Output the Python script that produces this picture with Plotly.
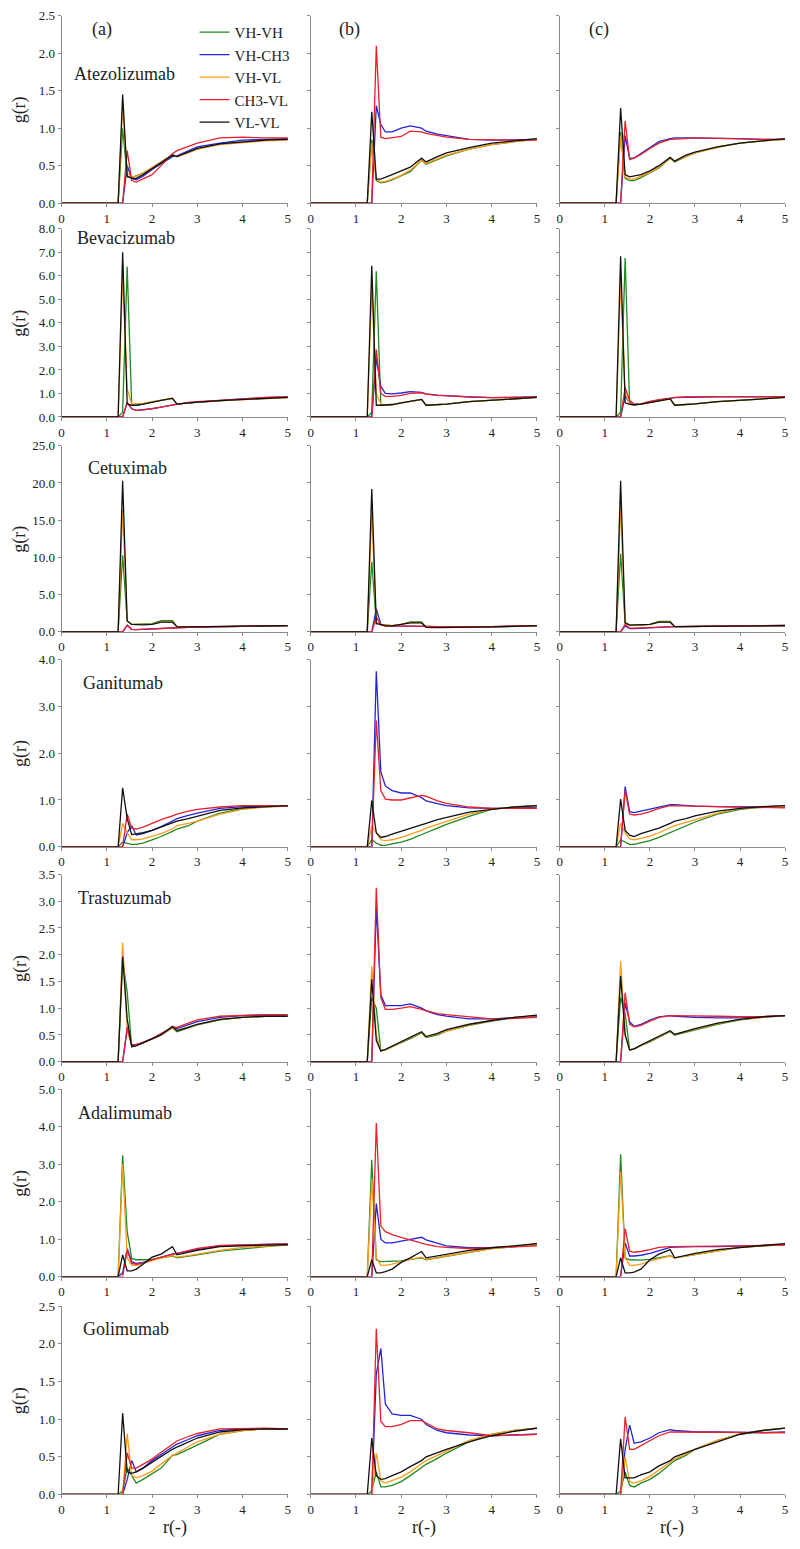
import plotly.graph_objects as go

# ---------------- data ----------------
R = [0, 1.25, 1.35, 1.45, 1.55, 1.65, 1.8, 2.0, 2.2, 2.45, 2.55, 2.8, 3.0, 3.5, 4.0, 4.5, 5.0]
SERIES = ["VH-VH", "VH-CH3", "VH-VL", "CH3-VL", "VL-VL"]
ANTIBODIES = ["Atezolizumab", "Bevacizumab", "Cetuximab", "Ganitumab",
              "Trastuzumab", "Adalimumab", "Golimumab"]
COLUMN_LABELS = ["(a)", "(b)", "(c)"]
Y_MAX = [2.5, 8.0, 25.0, 4.0, 3.5, 5.0, 2.5]
Y_DTICK = [0.5, 1.0, 5.0, 1.0, 0.5, 1.0, 0.5]
X_TICKS = [0, 1, 2, 3, 4, 5]

atezolizumab_a = {
    "VH-VH":  [0, 0, 1.0, 0.35, 0.34, 0.36, 0.4, 0.47, 0.55, 0.65, 0.62, 0.68, 0.72, 0.79, 0.82, 0.84, 0.85],
    "VH-CH3": [0, 0, 0, 0.5, 0.33, 0.31, 0.36, 0.45, 0.53, 0.62, 0.63, 0.7, 0.75, 0.8, 0.84, 0.85, 0.86],
    "VH-VL":  [0, 0, 1.3, 0.4, 0.35, 0.36, 0.4, 0.47, 0.55, 0.64, 0.62, 0.67, 0.72, 0.78, 0.81, 0.83, 0.84],
    "CH3-VL": [0, 0, 0, 0.7, 0.3, 0.28, 0.32, 0.38, 0.5, 0.66, 0.7, 0.76, 0.8, 0.87, 0.88, 0.87, 0.87],
    "VL-VL":  [0, 0, 1.45, 0.36, 0.33, 0.33, 0.38, 0.46, 0.55, 0.64, 0.62, 0.68, 0.73, 0.79, 0.82, 0.84, 0.85],
}
atezolizumab_b = {
    "VH-VH":  [0, 0, 0.85, 0.3, 0.27, 0.28, 0.31, 0.36, 0.42, 0.57, 0.52, 0.58, 0.63, 0.72, 0.78, 0.82, 0.85],
    "VH-CH3": [0, 0, 0, 1.3, 1.05, 0.95, 0.95, 1.0, 1.03, 1.0, 0.96, 0.92, 0.9, 0.85, 0.84, 0.84, 0.85],
    "VH-VL":  [0, 0, 0.8, 0.32, 0.28, 0.29, 0.32, 0.37, 0.44, 0.57, 0.53, 0.59, 0.64, 0.72, 0.78, 0.82, 0.85],
    "CH3-VL": [0, 0, 0, 2.1, 0.88, 0.86, 0.87, 0.89, 0.96, 0.95, 0.93, 0.9, 0.88, 0.85, 0.84, 0.84, 0.84],
    "VL-VL":  [0, 0, 1.22, 0.32, 0.32, 0.34, 0.38, 0.43, 0.48, 0.6, 0.55, 0.62, 0.67, 0.74, 0.8, 0.83, 0.86],
}
atezolizumab_c = {
    "VH-VH":  [0, 0, 0.95, 0.33, 0.3, 0.3, 0.34, 0.4, 0.47, 0.6, 0.55, 0.62, 0.67, 0.75, 0.8, 0.83, 0.85],
    "VH-CH3": [0, 0, 0, 0.9, 0.6, 0.6, 0.66, 0.74, 0.82, 0.86, 0.87, 0.87, 0.87, 0.86, 0.86, 0.85, 0.85],
    "VH-VL":  [0, 0, 0.9, 0.35, 0.32, 0.32, 0.36, 0.41, 0.48, 0.6, 0.56, 0.62, 0.67, 0.74, 0.8, 0.83, 0.85],
    "CH3-VL": [0, 0, 0, 1.1, 0.58, 0.6, 0.65, 0.73, 0.8, 0.85, 0.85, 0.86, 0.87, 0.86, 0.86, 0.85, 0.85],
    "VL-VL":  [0, 0, 1.27, 0.38, 0.35, 0.36, 0.38, 0.43, 0.5, 0.61, 0.56, 0.64, 0.68, 0.75, 0.8, 0.83, 0.86],
}

bevacizumab_a = {
    "VH-VH":  [0, 0, 0.2, 6.4, 0.5, 0.5, 0.55, 0.65, 0.72, 0.78, 0.55, 0.6, 0.63, 0.7, 0.75, 0.8, 0.82],
    "VH-CH3": [0, 0, 0, 0.6, 0.35, 0.28, 0.3, 0.35, 0.42, 0.52, 0.55, 0.6, 0.63, 0.7, 0.77, 0.82, 0.85],
    "VH-VL":  [0, 0, 6.0, 1.2, 0.55, 0.55, 0.58, 0.65, 0.72, 0.78, 0.55, 0.6, 0.63, 0.7, 0.75, 0.8, 0.82],
    "CH3-VL": [0, 0, 0, 0.62, 0.35, 0.28, 0.3, 0.36, 0.43, 0.53, 0.56, 0.62, 0.65, 0.72, 0.78, 0.83, 0.86],
    "VL-VL":  [0, 0, 7.0, 0.55, 0.5, 0.5, 0.55, 0.62, 0.72, 0.8, 0.55, 0.6, 0.63, 0.7, 0.75, 0.8, 0.83],
}
bevacizumab_b = {
    "VH-VH":  [0, 0, 0.2, 6.2, 0.5, 0.5, 0.52, 0.6, 0.68, 0.75, 0.5, 0.52, 0.55, 0.65, 0.72, 0.78, 0.83],
    "VH-CH3": [0, 0, 0, 2.5, 1.3, 1.0, 0.98, 1.02, 1.08, 1.05, 0.98, 0.93, 0.9, 0.85, 0.82, 0.83, 0.85],
    "VH-VL":  [0, 0, 5.5, 1.0, 0.55, 0.5, 0.52, 0.6, 0.68, 0.75, 0.5, 0.52, 0.55, 0.65, 0.72, 0.78, 0.83],
    "CH3-VL": [0, 0, 0, 2.87, 1.0, 0.88, 0.88, 0.92, 1.0, 1.03, 0.97, 0.92, 0.9, 0.85, 0.82, 0.83, 0.85],
    "VL-VL":  [0, 0, 6.43, 0.5, 0.5, 0.5, 0.53, 0.6, 0.68, 0.75, 0.5, 0.52, 0.55, 0.65, 0.72, 0.78, 0.83],
}
bevacizumab_c = {
    "VH-VH":  [0, 0, 0.2, 6.76, 0.55, 0.52, 0.55, 0.62, 0.7, 0.77, 0.5, 0.53, 0.56, 0.65, 0.72, 0.78, 0.83],
    "VH-CH3": [0, 0, 0, 0.9, 0.6, 0.52, 0.55, 0.65, 0.72, 0.8, 0.82, 0.84, 0.85, 0.86, 0.86, 0.86, 0.86],
    "VH-VL":  [0, 0, 5.8, 1.0, 0.55, 0.52, 0.55, 0.62, 0.7, 0.77, 0.5, 0.53, 0.56, 0.65, 0.72, 0.78, 0.83],
    "CH3-VL": [0, 0, 0, 1.24, 0.7, 0.55, 0.56, 0.66, 0.74, 0.8, 0.83, 0.85, 0.86, 0.87, 0.87, 0.87, 0.87],
    "VL-VL":  [0, 0, 6.83, 0.6, 0.54, 0.52, 0.55, 0.62, 0.7, 0.77, 0.5, 0.53, 0.56, 0.65, 0.72, 0.78, 0.83],
}

cetuximab_a = {
    "VH-VH":  [0, 0, 10.3, 1.5, 1.0, 1.0, 1.0, 1.1, 1.5, 1.5, 0.7, 0.68, 0.7, 0.72, 0.76, 0.8, 0.85],
    "VH-CH3": [0, 0, 0, 0.9, 0.35, 0.3, 0.35, 0.4, 0.45, 0.55, 0.58, 0.62, 0.65, 0.72, 0.78, 0.82, 0.85],
    "VH-VL":  [0, 0, 16.5, 1.5, 1.0, 1.0, 1.0, 1.05, 1.35, 1.35, 0.7, 0.68, 0.7, 0.72, 0.76, 0.8, 0.85],
    "CH3-VL": [0, 0, 0, 0.9, 0.35, 0.3, 0.35, 0.4, 0.45, 0.55, 0.58, 0.62, 0.65, 0.72, 0.78, 0.82, 0.85],
    "VL-VL":  [0, 0, 20.3, 1.46, 1.0, 0.95, 0.95, 1.0, 1.3, 1.3, 0.7, 0.68, 0.7, 0.72, 0.76, 0.8, 0.85],
}
cetuximab_b = {
    "VH-VH":  [0, 0, 9.4, 1.2, 1.0, 0.9, 0.85, 1.0, 1.35, 1.35, 0.65, 0.6, 0.6, 0.62, 0.68, 0.75, 0.85],
    "VH-CH3": [0, 0, 0, 3.1, 1.0, 0.8, 0.8, 0.82, 0.85, 0.8, 0.75, 0.72, 0.7, 0.7, 0.72, 0.78, 0.85],
    "VH-VL":  [0, 0, 16.0, 1.2, 1.0, 0.9, 0.85, 1.0, 1.25, 1.25, 0.65, 0.6, 0.6, 0.62, 0.68, 0.75, 0.85],
    "CH3-VL": [0, 0, 0, 2.0, 0.9, 0.8, 0.8, 0.82, 0.85, 0.8, 0.75, 0.72, 0.7, 0.7, 0.72, 0.78, 0.85],
    "VL-VL":  [0, 0, 19.2, 1.1, 1.0, 0.85, 0.8, 0.95, 1.2, 1.2, 0.6, 0.58, 0.58, 0.6, 0.66, 0.74, 0.85],
}
cetuximab_c = {
    "VH-VH":  [0, 0, 10.5, 1.2, 0.95, 0.9, 0.9, 1.0, 1.4, 1.4, 0.7, 0.7, 0.72, 0.74, 0.78, 0.8, 0.85],
    "VH-CH3": [0, 0, 0, 0.8, 0.45, 0.45, 0.5, 0.55, 0.6, 0.65, 0.7, 0.72, 0.75, 0.78, 0.8, 0.83, 0.86],
    "VH-VL":  [0, 0, 17.0, 1.2, 0.95, 0.9, 0.9, 1.0, 1.3, 1.3, 0.7, 0.7, 0.72, 0.74, 0.78, 0.8, 0.85],
    "CH3-VL": [0, 0, 0, 1.0, 0.5, 0.5, 0.55, 0.6, 0.65, 0.7, 0.72, 0.74, 0.76, 0.78, 0.8, 0.83, 0.86],
    "VL-VL":  [0, 0, 20.3, 1.2, 0.9, 0.9, 0.9, 1.0, 1.3, 1.3, 0.7, 0.7, 0.72, 0.74, 0.78, 0.8, 0.85],
}

ganitumab_a = {
    "VH-VH":  [0, 0, 0.1, 0.08, 0.05, 0.05, 0.08, 0.15, 0.22, 0.33, 0.38, 0.45, 0.55, 0.72, 0.82, 0.86, 0.87],
    "VH-CH3": [0, 0, 0, 0.3, 0.45, 0.25, 0.28, 0.35, 0.43, 0.55, 0.6, 0.67, 0.72, 0.82, 0.86, 0.87, 0.87],
    "VH-VL":  [0, 0, 0.5, 0.3, 0.15, 0.15, 0.17, 0.22, 0.28, 0.38, 0.45, 0.5, 0.55, 0.7, 0.8, 0.85, 0.87],
    "CH3-VL": [0, 0, 0, 0.7, 0.4, 0.38, 0.42, 0.5, 0.58, 0.66, 0.7, 0.76, 0.8, 0.85, 0.88, 0.88, 0.87],
    "VL-VL":  [0, 0, 1.26, 0.6, 0.26, 0.27, 0.3, 0.35, 0.42, 0.5, 0.55, 0.6, 0.65, 0.78, 0.83, 0.86, 0.88],
}
ganitumab_b = {
    "VH-VH":  [0, 0, 0.15, 0.08, 0.03, 0.03, 0.06, 0.1, 0.16, 0.25, 0.3, 0.4, 0.48, 0.65, 0.8, 0.85, 0.88],
    "VH-CH3": [0, 0, 0, 3.75, 1.6, 1.3, 1.2, 1.15, 1.15, 1.05, 0.98, 0.92, 0.88, 0.83, 0.82, 0.83, 0.85],
    "VH-VL":  [0, 0, 0.45, 0.3, 0.15, 0.13, 0.15, 0.2, 0.26, 0.35, 0.4, 0.48, 0.55, 0.7, 0.8, 0.85, 0.87],
    "CH3-VL": [0, 0, 0, 2.7, 1.2, 1.02, 1.0, 1.0, 1.05, 1.1, 1.08, 0.98, 0.93, 0.85, 0.82, 0.82, 0.82],
    "VL-VL":  [0, 0, 0.99, 0.3, 0.2, 0.22, 0.27, 0.33, 0.38, 0.46, 0.5, 0.58, 0.63, 0.74, 0.8, 0.85, 0.88],
}
ganitumab_c = {
    "VH-VH":  [0, 0, 0.15, 0.1, 0.05, 0.05, 0.08, 0.13, 0.2, 0.3, 0.35, 0.45, 0.53, 0.7, 0.8, 0.85, 0.88],
    "VH-CH3": [0, 0, 0, 1.29, 0.75, 0.73, 0.76, 0.8, 0.85, 0.9, 0.9, 0.88, 0.87, 0.86, 0.85, 0.85, 0.85],
    "VH-VL":  [0, 0, 0.5, 0.3, 0.17, 0.15, 0.18, 0.23, 0.3, 0.4, 0.45, 0.52, 0.58, 0.72, 0.82, 0.85, 0.87],
    "CH3-VL": [0, 0, 0, 1.2, 0.7, 0.68, 0.7, 0.75, 0.82, 0.88, 0.88, 0.87, 0.87, 0.86, 0.85, 0.84, 0.83],
    "VL-VL":  [0, 0, 1.02, 0.35, 0.25, 0.22, 0.28, 0.34, 0.4, 0.5, 0.55, 0.6, 0.66, 0.76, 0.82, 0.86, 0.88],
}

trastuzumab_a = {
    "VH-VH":  [0, 0, 1.9, 1.3, 0.28, 0.3, 0.35, 0.42, 0.5, 0.63, 0.56, 0.63, 0.69, 0.78, 0.83, 0.85, 0.85],
    "VH-CH3": [0, 0, 0, 0.6, 0.32, 0.32, 0.36, 0.43, 0.52, 0.64, 0.62, 0.7, 0.75, 0.83, 0.86, 0.87, 0.87],
    "VH-VL":  [0, 0, 2.23, 0.6, 0.3, 0.31, 0.35, 0.42, 0.5, 0.64, 0.58, 0.65, 0.7, 0.79, 0.83, 0.85, 0.85],
    "CH3-VL": [0, 0, 0, 0.65, 0.3, 0.32, 0.36, 0.43, 0.52, 0.65, 0.64, 0.72, 0.78, 0.85, 0.87, 0.88, 0.88],
    "VL-VL":  [0, 0, 1.96, 0.8, 0.28, 0.3, 0.35, 0.42, 0.5, 0.66, 0.58, 0.64, 0.7, 0.79, 0.83, 0.85, 0.85],
}
trastuzumab_b = {
    "VH-VH":  [0, 0, 1.2, 1.0, 0.2, 0.22, 0.28, 0.35, 0.43, 0.54, 0.45, 0.5, 0.57, 0.68, 0.76, 0.82, 0.86],
    "VH-CH3": [0, 0, 0, 2.9, 1.25, 1.05, 1.05, 1.05, 1.08, 1.0, 0.95, 0.88, 0.85, 0.8, 0.8, 0.82, 0.85],
    "VH-VL":  [0, 0, 1.79, 0.5, 0.2, 0.22, 0.28, 0.36, 0.44, 0.55, 0.46, 0.52, 0.58, 0.69, 0.77, 0.83, 0.86],
    "CH3-VL": [0, 0, 0, 3.25, 1.2, 0.98, 0.98, 1.0, 1.03, 0.98, 0.96, 0.9, 0.88, 0.84, 0.8, 0.81, 0.83],
    "VL-VL":  [0, 0, 1.54, 0.4, 0.2, 0.23, 0.29, 0.37, 0.45, 0.56, 0.47, 0.53, 0.6, 0.7, 0.77, 0.83, 0.87],
}
trastuzumab_c = {
    "VH-VH":  [0, 0, 1.2, 0.9, 0.22, 0.24, 0.3, 0.37, 0.46, 0.56, 0.5, 0.55, 0.6, 0.7, 0.78, 0.83, 0.86],
    "VH-CH3": [0, 0, 0, 1.1, 0.75, 0.66, 0.7, 0.78, 0.84, 0.86, 0.85, 0.84, 0.83, 0.82, 0.82, 0.84, 0.86],
    "VH-VL":  [0, 0, 1.88, 0.5, 0.22, 0.24, 0.3, 0.38, 0.47, 0.57, 0.51, 0.56, 0.61, 0.71, 0.79, 0.83, 0.86],
    "CH3-VL": [0, 0, 0, 1.29, 0.7, 0.65, 0.68, 0.76, 0.83, 0.86, 0.86, 0.86, 0.86, 0.85, 0.84, 0.84, 0.86],
    "VL-VL":  [0, 0, 1.6, 0.5, 0.22, 0.24, 0.31, 0.39, 0.48, 0.58, 0.51, 0.57, 0.62, 0.72, 0.79, 0.84, 0.86],
}

adalimumab_a = {
    "VH-VH":  [0, 0, 3.24, 1.2, 0.48, 0.45, 0.45, 0.46, 0.5, 0.55, 0.5, 0.54, 0.58, 0.68, 0.75, 0.8, 0.85],
    "VH-CH3": [0, 0, 0.1, 0.75, 0.4, 0.35, 0.38, 0.45, 0.52, 0.6, 0.62, 0.68, 0.72, 0.82, 0.85, 0.86, 0.87],
    "VH-VL":  [0, 0, 3.0, 0.5, 0.3, 0.3, 0.35, 0.42, 0.5, 0.56, 0.52, 0.56, 0.6, 0.7, 0.78, 0.82, 0.85],
    "CH3-VL": [0, 0, 0, 0.7, 0.35, 0.33, 0.36, 0.45, 0.52, 0.6, 0.62, 0.7, 0.75, 0.83, 0.85, 0.86, 0.87],
    "VL-VL":  [0, 0, 0.58, 0.15, 0.15, 0.2, 0.33, 0.52, 0.6, 0.8, 0.58, 0.65, 0.7, 0.8, 0.83, 0.84, 0.85],
}
adalimumab_b = {
    "VH-VH":  [0, 0, 3.12, 0.45, 0.4, 0.4, 0.4, 0.42, 0.46, 0.5, 0.45, 0.5, 0.55, 0.65, 0.75, 0.8, 0.85],
    "VH-CH3": [0, 0, 0, 1.95, 1.0, 0.9, 0.9, 0.95, 1.0, 1.05, 0.98, 0.88, 0.82, 0.77, 0.77, 0.8, 0.88],
    "VH-VL":  [0, 0, 2.6, 0.5, 0.3, 0.3, 0.33, 0.4, 0.46, 0.52, 0.46, 0.5, 0.55, 0.65, 0.75, 0.8, 0.85],
    "CH3-VL": [0, 0, 0, 4.1, 1.35, 1.2, 1.12, 1.05, 0.98, 0.9, 0.86, 0.8, 0.78, 0.75, 0.77, 0.8, 0.82],
    "VL-VL":  [0, 0, 0.45, 0.1, 0.1, 0.13, 0.2, 0.38, 0.5, 0.67, 0.5, 0.55, 0.6, 0.7, 0.77, 0.82, 0.88],
}
adalimumab_c = {
    "VH-VH":  [0, 0, 3.27, 0.5, 0.45, 0.44, 0.44, 0.46, 0.5, 0.56, 0.5, 0.55, 0.6, 0.7, 0.78, 0.82, 0.85],
    "VH-CH3": [0, 0, 0, 0.9, 0.55, 0.55, 0.57, 0.62, 0.7, 0.78, 0.79, 0.8, 0.8, 0.8, 0.81, 0.83, 0.86],
    "VH-VL":  [0, 0, 2.8, 0.5, 0.3, 0.3, 0.33, 0.42, 0.48, 0.55, 0.5, 0.55, 0.6, 0.7, 0.78, 0.82, 0.85],
    "CH3-VL": [0, 0, 0, 1.28, 0.68, 0.65, 0.67, 0.72, 0.78, 0.8, 0.8, 0.8, 0.8, 0.81, 0.82, 0.83, 0.85],
    "VL-VL":  [0, 0, 0.5, 0.1, 0.1, 0.12, 0.2, 0.45, 0.6, 0.72, 0.5, 0.57, 0.62, 0.72, 0.78, 0.83, 0.88],
}

golimumab_a = {
    "VH-VH":  [0, 0, 0.05, 0.35, 0.25, 0.15, 0.2, 0.27, 0.35, 0.52, 0.53, 0.6, 0.66, 0.8, 0.85, 0.87, 0.87],
    "VH-CH3": [0, 0, 0, 0.2, 0.45, 0.3, 0.35, 0.45, 0.53, 0.63, 0.67, 0.73, 0.78, 0.85, 0.87, 0.87, 0.87],
    "VH-VL":  [0, 0, 0, 0.81, 0.25, 0.22, 0.25, 0.31, 0.4, 0.52, 0.55, 0.63, 0.7, 0.8, 0.85, 0.87, 0.87],
    "CH3-VL": [0, 0, 0, 0.55, 0.35, 0.35, 0.4, 0.47, 0.56, 0.66, 0.71, 0.77, 0.81, 0.87, 0.88, 0.88, 0.87],
    "VL-VL":  [0, 0, 1.08, 0.3, 0.28, 0.3, 0.35, 0.43, 0.5, 0.6, 0.63, 0.7, 0.75, 0.83, 0.86, 0.87, 0.87],
}
golimumab_b = {
    "VH-VH":  [0, 0, 0.05, 0.3, 0.1, 0.1, 0.12, 0.17, 0.25, 0.35, 0.4, 0.48, 0.55, 0.7, 0.8, 0.85, 0.88],
    "VH-CH3": [0, 0, 0, 1.6, 1.94, 1.2, 1.07, 1.05, 1.05, 1.0, 0.93, 0.85, 0.82, 0.79, 0.78, 0.79, 0.8],
    "VH-VL":  [0, 0, 0, 0.55, 0.18, 0.15, 0.18, 0.23, 0.3, 0.4, 0.45, 0.52, 0.58, 0.72, 0.8, 0.85, 0.88],
    "CH3-VL": [0, 0, 0, 2.2, 0.97, 0.9, 0.9, 0.93, 0.98, 0.98, 0.95, 0.87, 0.85, 0.82, 0.78, 0.79, 0.8],
    "VL-VL":  [0, 0, 0.75, 0.25, 0.2, 0.21, 0.25, 0.3, 0.37, 0.45, 0.5, 0.56, 0.6, 0.7, 0.78, 0.84, 0.88],
}
golimumab_c = {
    "VH-VH":  [0, 0, 0.05, 0.3, 0.12, 0.1, 0.15, 0.2, 0.28, 0.4, 0.45, 0.52, 0.6, 0.72, 0.8, 0.85, 0.88],
    "VH-CH3": [0, 0, 0, 0.6, 0.92, 0.68, 0.7, 0.75, 0.82, 0.86, 0.85, 0.84, 0.83, 0.83, 0.82, 0.82, 0.83],
    "VH-VL":  [0, 0, 0, 0.5, 0.17, 0.15, 0.18, 0.24, 0.32, 0.42, 0.47, 0.54, 0.6, 0.72, 0.8, 0.85, 0.88],
    "CH3-VL": [0, 0, 0, 1.03, 0.6, 0.6, 0.65, 0.72, 0.78, 0.83, 0.83, 0.83, 0.83, 0.82, 0.82, 0.82, 0.82],
    "VL-VL":  [0, 0, 0.74, 0.22, 0.22, 0.22, 0.26, 0.3, 0.38, 0.45, 0.5, 0.56, 0.6, 0.7, 0.8, 0.85, 0.88],
}

PANELS = [
    [atezolizumab_a, atezolizumab_b, atezolizumab_c],
    [bevacizumab_a, bevacizumab_b, bevacizumab_c],
    [cetuximab_a, cetuximab_b, cetuximab_c],
    [ganitumab_a, ganitumab_b, ganitumab_c],
    [trastuzumab_a, trastuzumab_b, trastuzumab_c],
    [adalimumab_a, adalimumab_b, adalimumab_c],
    [golimumab_a, golimumab_b, golimumab_c],
]

# ---------------- style / layout ----------------
COLORS = {"VH-VH": "#1f8a1f", "VH-CH3": "#2323d8", "VH-VL": "#ff9a1a",
          "CH3-VL": "#e8202a", "VL-VL": "#111111"}
FONT = "Liberation Serif"
W, H = 800, 1549
COL_PX = [(59, 287), (310, 538), (561, 788)]
ROW_PX = [(9, 198), (224, 414), (443, 631), (659, 848), (876, 1065), (1093, 1282), (1312, 1502)]
NAME_POS = [(70, 68), (73, 233), (84, 466), (79, 683), (74, 900), (74, 1117), (79, 1335)]
LABEL_POS = [(100, 23), (349, 23), (600, 23)]
AXIS_GRAY = "#8a8a8a"

fig = go.Figure()
layout = {}
for i, row in enumerate(PANELS):
    for j, panel in enumerate(row):
        k = i * 3 + j + 1
        xa = "x" if k == 1 else f"x{k}"
        ya = "y" if k == 1 else f"y{k}"
        for s in SERIES:
            fig.add_trace(go.Scatter(
                x=R, y=panel[s], mode="lines", name=s,
                line=dict(color=COLORS[s], width=1.3),
                xaxis=xa, yaxis=ya,
                showlegend=(k == 1), hoverinfo="skip"))
        x0, x1 = COL_PX[j]
        y0, y1 = ROW_PX[i]
        layout["xaxis" if k == 1 else f"xaxis{k}"] = dict(
            domain=[x0 / W, x1 / W], anchor=ya, range=[0, 5],
            tickvals=X_TICKS, ticks="outside", ticklen=3, tickcolor=AXIS_GRAY,
            showline=True, linecolor=AXIS_GRAY, linewidth=1,
            showgrid=False, zeroline=False,
            tickfont=dict(family=FONT, size=13, color="#222"))
        layout["yaxis" if k == 1 else f"yaxis{k}"] = dict(
            domain=[1 - y1 / H, 1 - y0 / H], anchor=xa, range=[0, Y_MAX[i]],
            dtick=Y_DTICK[i], tick0=0, tickformat=".1f",
            ticks="outside", ticklen=3, tickcolor=AXIS_GRAY,
            showticklabels=(j == 0),
            showline=True, linecolor=AXIS_GRAY, linewidth=1,
            showgrid=False, zeroline=False,
            tickfont=dict(family=FONT, size=13, color="#222"))

annotations = []
for i, name in enumerate(ANTIBODIES):
    nx, ny = NAME_POS[i]
    annotations.append(dict(text=name, x=nx / W, y=1 - ny / H, xref="paper", yref="paper",
                            xanchor="left", yanchor="middle", showarrow=False,
                            font=dict(family=FONT, size=18, color="#222")))
    y0, y1 = ROW_PX[i]
    annotations.append(dict(text="g(r)", x=17 / W, y=1 - (y0 + y1) / 2 / H,
                            xref="paper", yref="paper", textangle=-90, showarrow=False,
                            xanchor="center", yanchor="middle",
                            font=dict(family=FONT, size=18, color="#222")))
for j, lab in enumerate(COLUMN_LABELS):
    lx, ly = LABEL_POS[j]
    annotations.append(dict(text=lab, x=lx / W, y=1 - ly / H, xref="paper", yref="paper",
                            xanchor="center", yanchor="middle", showarrow=False,
                            font=dict(family=FONT, size=18, color="#222")))
    x0, x1 = COL_PX[j]
    annotations.append(dict(text="r(-)", x=(x0 + x1) / 2 / W, y=1 - 1535 / H,
                            xref="paper", yref="paper", xanchor="center", yanchor="middle",
                            showarrow=False, font=dict(family=FONT, size=18, color="#222")))

fig.update_layout(
    **layout,
    width=W, height=H,
    margin=dict(l=0, r=0, t=0, b=0),
    paper_bgcolor="white", plot_bgcolor="white",
    annotations=annotations,
    showlegend=True,
    legend=dict(x=193 / W, y=1 - 9 / H, xanchor="left", yanchor="top",
                bgcolor="rgba(0,0,0,0)", borderwidth=0,
                font=dict(family=FONT, size=15, color="#222"),
                itemwidth=30, tracegroupgap=0),
)

fig.write_html("out.html", config={"displayModeBar": False},
               post_script="document.body.style.margin='0';")
